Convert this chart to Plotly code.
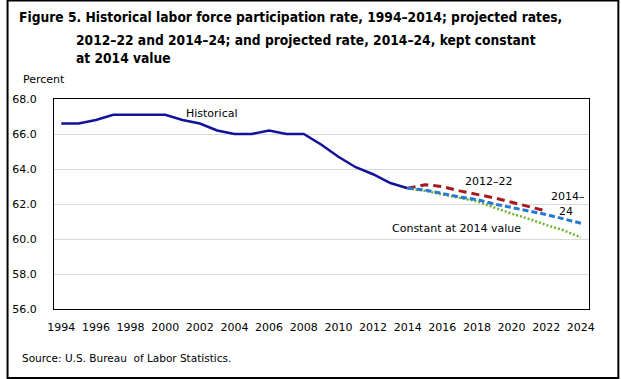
import plotly.graph_objects as go

# ---- data ----
hist_years = list(range(1994, 2015))
hist_rate = [66.6, 66.6, 66.8, 67.1, 67.1, 67.1, 67.1, 66.8, 66.6, 66.2, 66.0,
             66.0, 66.2, 66.0, 66.0, 65.4, 64.7, 64.1, 63.7, 63.2, 62.9]

proj1222_years = list(range(2014, 2023))
proj1222_rate = [62.9, 63.1, 63.0, 62.75, 62.55, 62.35, 62.1, 61.85, 61.6]

proj1424_years = list(range(2014, 2025))
proj1424_rate = [62.9, 62.8, 62.6, 62.4, 62.25, 62.0, 61.8, 61.6, 61.4, 61.15, 60.9]

const_years = list(range(2014, 2025))
const_rate = [62.9, 62.75, 62.55, 62.35, 62.15, 61.8, 61.45, 61.15, 60.8, 60.5, 60.1]

x_tick_labels = list(range(1994, 2025, 2))
y_tick_values = [56, 58, 60, 62, 64, 66, 68]

TXT = "DejaVu Sans"
TITLE_FONT = "Liberation Sans Narrow, DejaVu Sans Condensed, Lato, sans-serif"

fig = go.Figure()
fig.add_trace(go.Scatter(x=hist_years, y=hist_rate, mode="lines",
                         line=dict(color="#12129A", width=2.5), name="Historical"))
fig.add_trace(go.Scatter(x=proj1222_years, y=proj1222_rate, mode="lines",
                         line=dict(color="#A5191D", width=3, dash="8px,5px"), name="2012–22"))
fig.add_trace(go.Scatter(x=const_years, y=const_rate, mode="lines",
                         line=dict(color="#70B12E", width=2.5, dash="2px,2px"), name="Constant"))
fig.add_trace(go.Scatter(x=proj1424_years, y=proj1424_rate, mode="lines",
                         line=dict(color="#2479D3", width=3, dash="6px,3px"), name="2014–24"))

# plot area pixel mapping helpers: left 48, right 589.3, top 99.3, bottom 309
PW, PH = 541.3, 209.7
def px(x):
    return (x - 48) / PW
def py(y):
    return (309 - y) / PH

ann = []
title_lines = [
    ("Figure 5. Historical labor force participation rate, 1994–2014; projected rates,", 11, 17),
    ("2012–22 and 2014–24; and projected rate, 2014–24, kept constant", 68, 40),
    ("at 2014 value", 68, 58.7),
]
for t, x, y in title_lines:
    ann.append(dict(text="<b>" + t + "</b>", xref="paper", yref="paper", x=px(x), y=py(y),
                    xanchor="left", yanchor="middle", showarrow=False,
                    font=dict(family=TITLE_FONT, size=13.7, color="black")))
ann.append(dict(text="Percent", xref="paper", yref="paper", x=px(15), y=py(80),
                xanchor="left", yanchor="middle", showarrow=False,
                font=dict(family=TXT, size=11, color="black")))
ann.append(dict(text="Source: U.S. Bureau  of Labor Statistics.", xref="paper", yref="paper",
                x=px(14), y=py(358.3), xanchor="left", yanchor="middle", showarrow=False,
                font=dict(family=TXT, size=10.5, color="black")))
labels = [("Historical", 2002.71, 67.16), ("2012–22", 2018.70, 63.27),
          ("2014–", 2023.26, 62.43), ("24", 2023.13, 61.56),
          ("Constant at 2014 value", 2016.82, 60.59)]
for t, x, y in labels:
    ann.append(dict(text=t, xref="x", yref="y", x=x, y=y, xanchor="center", yanchor="middle",
                    showarrow=False, font=dict(family=TXT, size=11, color="black")))

shapes = [dict(type="rect", xref="paper", yref="paper",
               x0=px(1), x1=px(619), y0=py(378), y1=py(1),
               line=dict(color="black", width=2), layer="above")]

fig.update_layout(
    width=621, height=379,
    margin=dict(l=48, r=32, t=99, b=70, pad=0),
    paper_bgcolor="white", plot_bgcolor="white",
    showlegend=False,
    annotations=ann,
    shapes=shapes,
    font=dict(family=TXT, size=11, color="black"),
)
fig.update_xaxes(range=[1993.58, 2024.47], tickvals=x_tick_labels,
                 ticktext=[str(v) for v in x_tick_labels],
                 showgrid=False, zeroline=False, showline=True, mirror=True,
                 linecolor="black", linewidth=1, ticks="", ticklabelstandoff=8,
                 tickfont=dict(family=TXT, size=11, color="black"))
fig.update_yaxes(range=[56, 68], tickvals=y_tick_values, tickformat=".1f",
                 showgrid=True, gridcolor="#D9D9D9", gridwidth=1, zeroline=False,
                 showline=True, mirror=True, linecolor="black", linewidth=1,
                 ticks="", ticklabelstandoff=14,
                 tickfont=dict(family=TXT, size=11, color="black"))

fig.write_html("out.html", config={"displayModeBar": False},
               post_script="document.body.style.margin='0';document.body.style.overflow='hidden';")
